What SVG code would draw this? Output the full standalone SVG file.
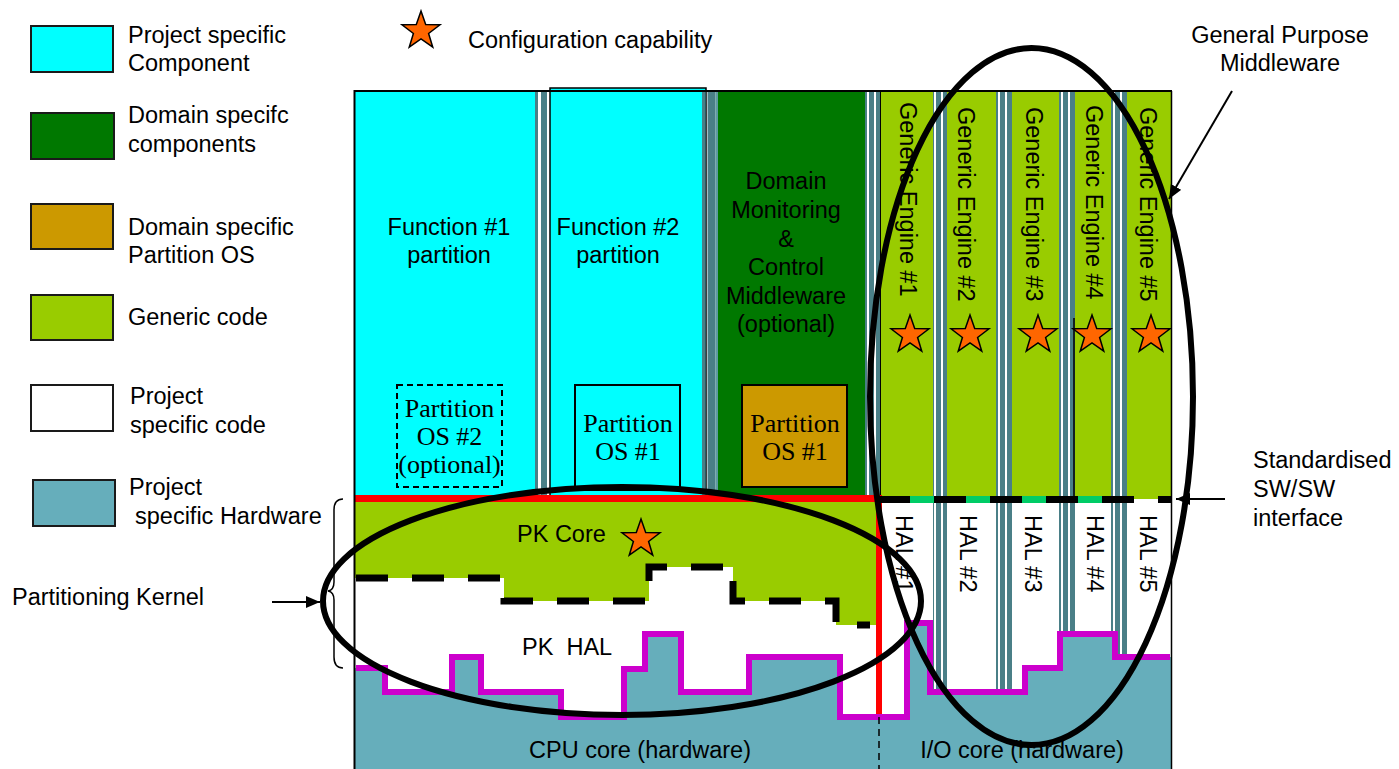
<svg xmlns="http://www.w3.org/2000/svg" width="1399" height="769" viewBox="0 0 1399 769">
<defs>
<style>
.t{font-family:"Liberation Sans",Arial,sans-serif;font-size:23.5px;fill:#000}
.s{font-family:"Liberation Serif","Times New Roman",serif;font-size:26px;fill:#000}
.m{text-anchor:middle}
.pre{white-space:pre}
.sep{fill:#4a7f87}
.wh{fill:#fff}
.cy{fill:#00ffff}
.yg{fill:#99cc00}
.oval{fill:none;stroke:#000;stroke-width:6}
.lg{stroke:#1a1a1a;stroke-width:2}
.ptr{stroke:#000;stroke-width:2;fill:none;marker-end:url(#ah)}
.cfg{fill:#ff6600;stroke:#000;stroke-width:1.5}
</style>
<marker id="ah" viewBox="0 0 14 12" refX="14" refY="6" markerWidth="14" markerHeight="12" markerUnits="userSpaceOnUse" orient="auto">
<path d="M0,0 L14,6 L0,12 Z" fill="#000"/>
</marker>
<path id="star" class="cfg" d="M0,-20 L4.7,-6.47 L19.02,-6.18 L7.61,2.47 L11.76,16.18 L0,8 L-11.76,16.18 L-7.61,2.47 L-19.02,-6.18 L-4.7,-6.47 Z"/>
</defs>
<rect width="1399" height="769" fill="#fff"/>

<!-- legend -->
<g id="legend">
<rect x="31" y="26" width="82" height="46" class="lg" fill="#00ffff"/>
<text class="t" x="128" y="43">Project specific</text>
<text class="t" x="128" y="71">Component</text>
<rect x="31" y="113" width="83" height="46" class="lg" fill="#007800"/>
<text class="t" x="128" y="123">Domain specifc</text>
<text class="t" x="128" y="152">components</text>
<rect x="31" y="204" width="82" height="45" class="lg" fill="#cc9900"/>
<text class="t" x="128" y="235">Domain specific</text>
<text class="t" x="128" y="263">Partition OS</text>
<rect x="31" y="295" width="82" height="45" class="lg" fill="#99cc00"/>
<text class="t" x="128" y="325">Generic code</text>
<rect x="31" y="385" width="82" height="46" class="lg" fill="#fff"/>
<text class="t" x="130" y="404">Project</text>
<text class="t" x="130" y="433">specific code</text>
<rect x="33" y="480" width="82" height="46" class="lg" fill="#66aebb"/>
<text class="t" x="129" y="495">Project</text>
<text class="t" x="135" y="524">specific Hardware</text>
<use href="#star" x="421" y="31"/>
<text class="t" x="468" y="48">Configuration capability</text>
</g>

<!-- application partitions -->
<g id="fn1">
<rect x="354" y="91" width="181" height="405" class="cy"/>
<rect x="397" y="385" width="105" height="102" fill="none" stroke="#000" stroke-width="2" stroke-dasharray="6 4"/>
<text class="t m" x="449" y="235">Function #1</text>
<text class="t m" x="449" y="263">partition</text>
<text class="s m" x="449.5" y="417">Partition</text>
<text class="s m" x="449.5" y="445">OS #2</text>
<text class="s m" x="449.5" y="473">(optional)</text>
</g>
<g id="sep-a">
<rect x="535" y="91" width="3" height="405" class="sep"/>
<rect x="541" y="91" width="6" height="405" class="sep"/>
<rect x="547" y="91" width="2" height="405" class="wh"/>
</g>
<g id="fn2">
<rect x="550" y="88" width="156" height="408" class="cy" stroke="#000" stroke-width="1.5"/>
<rect x="702" y="91" width="3.5" height="405" class="sep"/>
<rect x="575" y="385" width="105" height="105" fill="none" stroke="#000" stroke-width="2"/>
<text class="t m" x="618" y="235">Function #2</text>
<text class="t m" x="618" y="263">partition</text>
<text class="s m" x="628" y="432">Partition</text>
<text class="s m" x="628" y="460">OS #1</text>
</g>
<g id="sep-b">
<rect x="707.5" y="91" width="8" height="405" class="sep"/>
<rect x="715.5" y="91" width="2.5" height="405" fill="#5d9aa0"/>
</g>
<g id="domain-mw">
<rect x="718" y="91" width="147" height="405" fill="#007800"/>
<rect x="742" y="385" width="105" height="102" fill="#cc9900" stroke="#000" stroke-width="2"/>
<text class="t m" x="786" y="189">Domain</text>
<text class="t m" x="786" y="218">Monitoring</text>
<text class="t m" x="786" y="247">&amp;</text>
<text class="t m" x="786" y="275">Control</text>
<text class="t m" x="786" y="304">Middleware</text>
<text class="t m" x="786" y="332">(optional)</text>
<text class="s m" x="795" y="432">Partition</text>
<text class="s m" x="795" y="460">OS #1</text>
</g>
<g id="sep-c">
<rect x="865" y="91" width="15" height="405" class="sep"/>
<rect x="867" y="91" width="2" height="405" class="wh"/>
<rect x="874" y="91" width="2" height="405" class="wh"/>
<rect x="880" y="91" width="1.5" height="405" fill="#000"/>
</g>

<!-- general purpose middleware: engines over their HALs -->
<g id="gp-area">
<rect x="881" y="91" width="291" height="408" class="yg"/>
<rect x="881" y="499" width="291" height="230" class="wh"/>
<g id="engine-seps">
<rect x="933" y="91" width="14" height="610" class="sep"/>
<rect x="934" y="91" width="2" height="610" class="wh"/>
<rect x="941" y="91" width="2" height="610" class="wh"/>
<rect x="996" y="91" width="16" height="610" class="sep"/>
<rect x="998" y="91" width="2" height="610" class="wh"/>
<rect x="1005" y="91" width="2" height="610" class="wh"/>
<rect x="1059" y="91" width="16" height="610" class="sep"/>
<rect x="1061" y="91" width="2" height="610" class="wh"/>
<rect x="1068" y="91" width="2" height="610" class="wh"/>
<rect x="1111" y="91" width="16" height="610" class="sep"/>
<rect x="1113" y="91" width="2" height="610" class="wh"/>
<rect x="1120" y="91" width="2" height="610" class="wh"/>
</g>
<line x1="1074" y1="318" x2="1074" y2="497" stroke="#000" stroke-width="1.5"/>
</g>
<g id="engine-1"><text class="t" transform="translate(900,102) rotate(90)">Generic Engine #1</text><use href="#star" x="910" y="335"/></g>
<g id="engine-2"><text class="t" transform="translate(958,107) rotate(90)">Generic Engine #2</text><use href="#star" x="970" y="335"/></g>
<g id="engine-3"><text class="t" transform="translate(1026,107) rotate(90)">Generic Engine #3</text><use href="#star" x="1038" y="335"/></g>
<g id="engine-4"><text class="t" transform="translate(1086,105) rotate(90)">Generic Engine #4</text><use href="#star" x="1092" y="335"/></g>
<g id="engine-5"><text class="t" transform="translate(1140,107) rotate(90)">Generic Engine #5</text><use href="#star" x="1151" y="335"/></g>

<!-- partitioning kernel -->
<g id="pk-core">
<rect x="354" y="495" width="522" height="7" fill="#ff0000"/>
<polygon class="yg" points="354,502 876,502 876,625 836,625 836,601 733,601 733,567 649,567 649,601 504,601 504,578 354,578"/>
<text class="t" x="517" y="542">PK Core</text>
<use href="#star" x="641" y="539"/>
</g>

<!-- hardware -->
<g id="hardware">
<polygon fill="#66aebb" points="354,668 385,668 385,692 452,692 452,657 481,657 481,692 561,692 561,717 624,717 624,669 645,669 645,634 681,634 681,692 749,692 749,657 840,657 840,717 907,717 907,623 930,623 930,692 1025,692 1025,668 1060,668 1060,634 1115,634 1115,657 1172,657 1172,769 354,769"/>
<rect x="876" y="495" width="6" height="219" fill="#ff0000"/>
<path d="M356,668 H385 V692 H452 V657 H481 V692 H561 V717 H624 V669 H645 V634 H681 V692 H749 V657 H840 V717 H907 V623 H930 V692 H1025 V668 H1060 V634 H1115 V657 H1170" fill="none" stroke="#cc00cc" stroke-width="6"/>
<line x1="879" y1="717" x2="879" y2="769" stroke="#000" stroke-width="1.5" stroke-dasharray="7 5"/>
</g>
<g id="pk-hal">
<path d="M356,578 H504 V601 H649 V567 H733 V601 H836 V625 H870" fill="none" stroke="#000" stroke-width="7" stroke-dasharray="32 24"/>
<text class="t pre" x="522" y="655" xml:space="preserve">PK  HAL</text>
</g>
<g id="cpu-core"><text class="t m" x="640" y="758">CPU core (hardware)</text></g>
<g id="io-core"><text class="t m" x="1022" y="758">I/O core (hardware)</text></g>

<!-- standardised SW/SW interface -->
<g id="sw-interface">
<line x1="876" y1="499.5" x2="1134" y2="499.5" stroke="#00cc66" stroke-width="7"/>
<path d="M876,499.5 H910 M934,499.5 H966 M990,499.5 H1022 M1046,499.5 H1078 M1102,499.5 H1134 M1158,499.5 H1172" stroke="#000" stroke-width="7"/>
</g>
<g id="hal-1"><text class="t" transform="translate(896,515) rotate(90)">HAL #1</text></g>
<g id="hal-2"><text class="t" transform="translate(960,515) rotate(90)">HAL #2</text></g>
<g id="hal-3"><text class="t" transform="translate(1025,515) rotate(90)">HAL #3</text></g>
<g id="hal-4"><text class="t" transform="translate(1087,515) rotate(90)">HAL #4</text></g>
<g id="hal-5"><text class="t" transform="translate(1140,515) rotate(90)">HAL #5</text></g>

<!-- frame -->
<g id="frame" stroke="#000" fill="none">
<line x1="354" y1="91" x2="1172" y2="91" stroke-width="2"/>
<line x1="354.5" y1="90" x2="354.5" y2="769" stroke-width="2"/>
<line x1="1171.5" y1="91" x2="1171.5" y2="769" stroke-width="1.5"/>
</g>

<!-- groupings -->
<ellipse id="gp-oval" class="oval" cx="1031.5" cy="396.5" rx="161.5" ry="348.5"/>
<ellipse id="pk-oval" class="oval" cx="622" cy="601" rx="299" ry="114"/>

<!-- callouts -->
<g id="connectors">
<path d="M343,499 Q334,499 334,510 L334,582 Q334,590 328,591 Q334,592 334,600 L334,657 Q334,668 343,668" fill="none" stroke="#000" stroke-width="1.5"/>
<line class="ptr" x1="272" y1="602" x2="320" y2="602"/>
<line class="ptr" x1="1232" y1="91" x2="1169" y2="199"/>
<line class="ptr" x1="1225" y1="499" x2="1176" y2="499"/>
</g>
<g id="labels">
<text class="t" x="12" y="605">Partitioning Kernel</text>
<text class="t m" x="1280" y="43">General Purpose</text>
<text class="t m" x="1280" y="71">Middleware</text>
<text class="t" x="1253" y="468">Standardised</text>
<text class="t" x="1253" y="497">SW/SW</text>
<text class="t" x="1253" y="526">interface</text>
</g>
</svg>
